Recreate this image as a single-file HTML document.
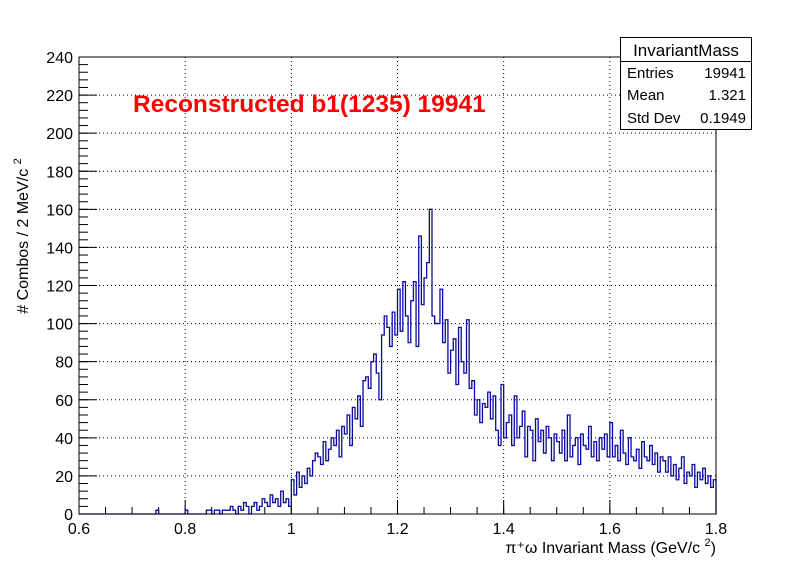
<!DOCTYPE html>
<html><head><meta charset="utf-8"><style>
body{margin:0;background:#fff;font-family:"Liberation Sans",sans-serif}
</style></head><body>
<svg width="796" height="572" xmlns="http://www.w3.org/2000/svg" font-family="Liberation Sans, sans-serif">
<g id="grid"></g>
<g id="axes"></g>
<path id="hist" fill="none" stroke="#0a0aa0" stroke-width="1.3"/>
<rect x="79" y="57" width="637" height="457" fill="none" stroke="#000" stroke-width="1"/>
<text x="133" y="112" fill="#ff0000" font-size="24.5" font-weight="bold">Reconstructed b1(1235) 19941</text>
<g>
<rect x="620.5" y="37.5" width="131" height="92" fill="#fff" stroke="#000"/>
<line x1="620.5" y1="61.5" x2="751.5" y2="61.5" stroke="#000"/>
<text x="686" y="56" font-size="17" text-anchor="middle">InvariantMass</text>
<text x="627" y="78" font-size="15">Entries</text>
<text x="746" y="78" font-size="15" text-anchor="end">19941</text>
<text x="627" y="100" font-size="15">Mean</text>
<text x="746" y="100" font-size="15" text-anchor="end">1.321</text>
<text x="627" y="123" font-size="15">Std Dev</text>
<text x="746" y="123" font-size="15" text-anchor="end">0.1949</text>
</g>
<text x="716" y="553" font-size="16" text-anchor="end">π⁺ω Invariant Mass (GeV/c <tspan dy="-7" font-size="11">2</tspan><tspan dy="7">)</tspan></text>
<text transform="translate(28,236) rotate(-90)" font-size="16" text-anchor="middle"># Combos / 2 MeV/c <tspan dy="-7" font-size="11">2</tspan></text>
</svg>
<script>
const binLow = 0.6, binWidth = 0.005;
const counts = [
0,0,0,0,0,0,0,0,0,0, 0,0,0,0,0,0,0,0,0,0,
0,0,0,0,0,0,0,0,0,2, 0,0,0,0,0,0,0,0,0,0,
2,0,0,0,0,0,0,0,2,2, 0,2,2,0,2,2,2,4,2,0,
4,2,6,4,0,4,6,2,4,8, 6,4,10,6,8,4,12,6,8,4,
18,10,22,14,20,16,24,20,28,32, 30,26,38,28,34,40,36,44,30,46,
42,52,36,56,50,62,46,70,72,66, 80,84,74,60,94,104,98,88,106,94,
118,96,122,104,90,112,122,88,146,110, 124,132,160,104,100,100,118,90,102,74,
86,92,68,98,80,74,102,66,70,52, 60,48,58,56,64,50,62,44,36,68,
40,48,52,36,62,40,46,54,30,46, 44,28,50,38,44,32,46,40,28,42,
38,32,44,28,52,30,36,40,26,42, 36,34,46,30,38,28,40,34,42,30,
48,30,36,28,44,32,26,40,30,28, 34,24,38,30,28,36,26,32,22,30,
28,22,30,20,26,18,24,30,16,22, 20,26,14,22,18,24,16,20,14,18
];
const xTickLabels = ["0.6","0.8","1","1.2","1.4","1.6","1.8"];
const yTickLabels = ["0","20","40","60","80","100","120","140","160","180","200","220","240"];
const X0=79,X1=716,Y0=514,Y1=57, xmin=0.6,xmax=1.8,ymax=240;
const sx=v=>X0+(v-xmin)/(xmax-xmin)*(X1-X0);
const sy=v=>Y0-v/ymax*(Y0-Y1);
const NS="http://www.w3.org/2000/svg";
const grid=document.getElementById('grid'), axes=document.getElementById('axes');
function mk(tag,attrs,parent){const e=document.createElementNS(NS,tag);for(const k in attrs)e.setAttribute(k,attrs[k]);parent.appendChild(e);return e;}
xTickLabels.forEach(t=>{const v=parseFloat(t),x=sx(v);
 if(v>xmin&&v<xmax){const g=mk('line',{x1:x,x2:x,y1:Y1,y2:Y0,stroke:'#000','stroke-dasharray':'1,3'},grid);
 
 }
 const tk=mk('line',{x1:x,x2:x,y1:Y0,y2:Y0-14,stroke:'#000'},axes);
 
 
 const tx=mk('text',{x:x,y:Y0+20,'font-size':16,'text-anchor':'middle'},axes);tx.textContent=t;
 
 
});
for(let v=xmin;v<xmax-1e-9;v+=0.05){const x=sx(v);mk('line',{x1:x,x2:x,y1:Y0,y2:Y0-7,stroke:'#000'},axes);}
yTickLabels.forEach(t=>{const v=parseFloat(t),y=sy(v);
 if(v>0&&v<ymax){const g=mk('line',{x1:X0,x2:X1,y1:y,y2:y,stroke:'#000','stroke-dasharray':'1,3'},grid);
 
 }
 const tk=mk('line',{x1:X0,x2:X0+18,y1:y,y2:y,stroke:'#000'},axes);
 
 
 const tx=mk('text',{x:X0-6,y:y+6,'font-size':16,'text-anchor':'end'},axes);tx.textContent=t;
 
 
});
for(let v=0;v<ymax;v+=4){const y=sy(v);mk('line',{x1:X0,x2:X0+9,y1:y,y2:y,stroke:'#000'},axes);}
let d='M'+sx(binLow)+','+sy(0);
counts.forEach((c,i)=>{const xa=sx(binLow+i*binWidth),xb=sx(binLow+(i+1)*binWidth);d+=' L'+xa+','+sy(c)+' L'+xb+','+sy(c);});
d+=' L'+sx(binLow+counts.length*binWidth)+','+sy(0);
document.getElementById('hist').setAttribute('d',d);
</script>
</body></html>
